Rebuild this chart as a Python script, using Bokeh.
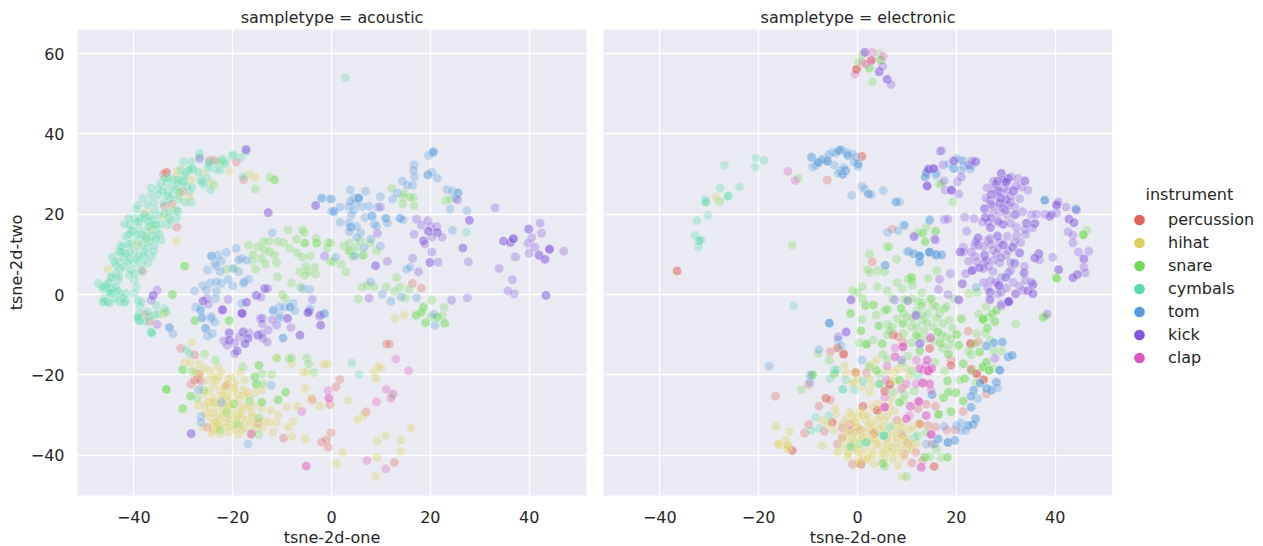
from bokeh.embed import file_html
from bokeh.resources import INLINE
from bokeh.plotting import figure
from bokeh.layouts import row
from bokeh.models import Range1d, FixedTicker, Legend, LegendItem, Label, ColumnDataSource

instruments = ["percussion", "hihat", "snare", "cymbals", "tom", "kick", "clap"]
colors = ["#DF6258", "#DBD05B", "#70DC55", "#56DBAA", "#579BDC", "#8156DC", "#DC56BE"]
x_ticks = [-40, -20, 0, 20, 40]
y_ticks = [-40, -20, 0, 20, 40, 60]

ac_percussion = [(11.1,-12.3),(11.7,-12.3),(1.7,-21.1),(.9,-23),(-.3,-27.4),(-3.9,-26.2),(7,-29.2),(12.7,-41.8),(-.1,-34.4),(-1,-36.2),(-2,-36.7),(-.7,-38),(-9.7,-35.7),(-21.3,-22.6),(-28.4,-22.3),(-27,-20.9),(-27.7,-21.3),(-26.4,-21.5),(-25.1,-33),(-30.5,-13.4),(-27.7,-15),(-16.2,-34.8),(-14.9,-32),(-26.7,-19.7),(-33.4,30.4),(-33.4,30.4),(-34,30),(-30.1,25.7),(-33.8,22),(-32.3,22.6),(-31.3,16.8),(-24.7,33.4),(-23.7,33.4),(-19.3,33),(-17.8,28.6),(-38.2,5.8),(-37.8,-5),(-36.8,-6.7),(18.2,1.6),(16.4,2.8)]
ac_hihat = [(-28.2,-11.8),(-29.7,-16.8),(-28.6,-17),(-26.8,-17.2),(-25.7,-18.2),(-24.7,-19),(-23,-18),(-22.3,-19.2),(-26.7,-19.7),(-25,-21.3),(-23.3,-21.2),(-20.3,-20.5),(-18.4,-19.4),(-17.6,-21.3),(-22.6,-23.8),(-21.3,-24.7),(-19.9,-23.8),(-17.9,-23.8),(-19.6,-23.2),(-24,-25.7),(-21.3,-26.3),(-19.9,-27.2),(-17.9,-25.1),(-16.6,-25.5),(-27,-27.6),(-25.7,-27.6),(-24.7,-28),(-23,-28.4),(-21.3,-28.8),(-19.9,-28.8),(-18.6,-29.7),(-16.2,-29.3),(-24.7,-30.5),(-23,-30.5),(-21.3,-31.8),(-19.3,-31.3),(-17.2,-31.3),(-14.9,-30.9),(-24,-32.2),(-20.9,-34.3),(-18.9,-34.7),(-17.6,-33),(-24.3,-34.5),(-22.6,-34.7),(-13.9,-33),(-12.2,-28.8),(-10.8,-29.9),(-12.5,-31.8),(-11.1,-31.8),(-8.8,-33),(-7.8,-31.6),(-11.8,-34.3),(-8,-35.3),(-5.3,-35.9),(-14.1,-28.4),(-14.1,-23.7),(-5.4,-23.4),(-4.1,-25.7),(-2.4,-27.8),(-7,-27.8),(-9.1,-28),(3.4,-26.3),(5.3,-31.1),(6.4,-30.1),(1.1,-42),(2.2,-39.3),(9.3,-36.5),(11,-35.1),(16.1,-33.2),(14.1,-36.2),(14,-39),(9.3,-40.5),(8.9,-45.3),(8.6,-19.3),(9.5,-17.8),(10.1,-18.4),(9,-20.9),(-1.6,-17.4),(-.8,-17.3),(-5.7,-19.4),(-5.1,-19.3),(-8,-17.2),(-11.1,-15.8),(12.8,-5.9),(14.7,-5.1),(-22.4,-26),(-20.6,-25.8),(-18.8,-26.3),(-23.5,-27),(-20.5,-27.5),(-18,-27.8),(-22,-29.6),(-20.4,-30),(-18,-30.5),(-16.4,-32),(-22.5,-32.8),(-20,-32.6),(-18.4,-32.4),(-24.8,-24),(-15.8,-27.4),(-21,-22.4),(-23.2,-33.5),
(-31.2,30.9),(-31.4,29.4),(-26,30.3),(-28.4,28.6),(-30.6,24.4),(-28.7,24.2),(-30.7,25.7),(-34,19.6),(-32.1,21.1),(-37.4,20.7),(-36.3,16.1),(-37.4,13.8),(-39.2,12.3),(-31.4,13.3),(-45.3,6.3),(-20.6,30.7),(-22.3,32.8),(-16.6,30),(-15.5,29.2),(-24.5,27.8),(-34,-4.8),(-33.7,-4.4),(-36.5,16.9),
(-25,-26.5),(-24,-29.5),(-22,-25),(-21,-27.8),(-19,-25),(-18.2,-28.8),(-16.9,-28),(-16,-30.5),(-22.5,-31),(-21,-33),(-19.5,-33.5),(-25.5,-29.5),(-26,-33),(-23.5,-31.7),(-20.8,-31),(-22,-27.5),(-24,-26.8),(-18,-33.8),(-16,-34),(-13.5,-31.5),(-15,-32.8),(-23.8,-22.5),(-22.8,-20.5),(-21,-21),(-27.5,-19),(-24,-20.5),(-19.5,-22),(-19,-30.3),(-17,-24.3),(-21.5,-23),(-15.5,-24.5),(-25.8,-24.5),(-23,-32.5),(-24,-34)]
ac_snare = [(-29.7,7.1),(-29.7,7.1),(-32.2,0),(-32.2,0),(-12.5,29.2),(-11.5,28.6),(-11.5,28.6),(-15.4,26.3),(-23.8,27.3),(-8.8,16.1),(-5.5,15.4),(-5.9,16.1),(-5.4,12.8),(-5.4,12.8),(-3,12.8),(-3,12.8),(-3.1,14),(-.7,12.9),(-.8,11.5),(-7.1,13.8),(-8.5,11.5),(-7,10.4),(-5.9,9.3),(-4.3,9.6),(-9.7,12.9),(-10.9,13.2),(-12.6,13.2),(-13.8,13.2),(-16.8,12.3),(-14.9,11.9),(-13.6,11.1),(-12.5,10.7),(-11.5,9.8),(-15.9,10),(-14.2,9),(-16,8.4),(-13.4,7.6),(-11.1,7.9),(-15.4,6.3),(-10.9,4.4),(-6.4,5.7),(-5.4,4.8),(-4.7,5.7),(-3.2,5.1),(-3.4,6.9),(-5.2,7.1),(-8.1,2.9),(-6.3,1.9),(-9.9,0),(-9.4,-1),(-21.3,6.3),(-19.6,6.5),(-.3,8.2),(-20.7,-6.4),(-27.7,-6.4),
(12.2,26.4),(14.7,25.3),(14.5,24.4),(15.9,24.2),(16.5,24.2),(14.4,22.6),(16.7,22.1),(23.1,23.4),(24,23.8),(-.2,12.9),(2.5,12.2),(3.6,12.8),(3.6,10.9),(3.6,10.9),(5.1,11.8),(5.9,13.4),(7.8,12.8),(9.1,10.9),(6.4,9.8),(6.4,9.8),(4.2,9.6),(2,7.6),(.3,8.2),(2.9,5.7),(13.2,4.2),(6.2,1.9),(7.2,2.3),(8.6,1.9),(11.1,1.9),(12.8,.8),(13.8,1.9),(15.7,1.3),(5.4,-1.1),(14.9,-.8),(20.3,-1.4),(18.6,-3.1),(18.6,-3.1),(22.8,-3.1),(17.2,-5.2),(18,-4.6),(20.1,-5.6),(21.4,-5.6),(21.4,-5.6),(22.4,-5.2),(22.9,-7.1),(22.9,-7.1),(19,-7.1),
(-33.4,-23.6),(-33.4,-23.6),(-33.4,-23.6),(-28.5,-25.3),(-28.5,-25.3),(-30.1,-28.4),(-30.1,-28.4),(-30.1,-18.7),(-30.1,-18.7),(-28.2,-19.1),(-25.7,-14.8),(-23.4,-16.3),(-20.7,-6.5),(-27.6,-6.5),(-25.9,-23.7),(-27.1,-25.9),(-17.9,-18),(-14.7,-17.6),(-14.7,-17.6),(-14.1,-19.7),(-15.5,-20.5),(-15.5,-20.5),(-15.2,-22.3),(-15.2,-22.3),(-13.9,-22.2),(-12.1,-19.9),(-9.3,-24.3),(-9.3,-24.3),(-10.8,-26.2),(-10.8,-26.2),(-14.1,-26.8),(-14.1,-26.8),(-16.6,-26.5),(-19.7,-27.2),(-21.3,-29.4),(-19.1,-32.2),(-14.7,-30.7),(-14.7,-34.8),(-22.6,-33.7),(-11.1,-15.8),(-8.6,-16),(-8.1,-15.8),(-5,-15.8),(-4.6,-17.3),(-3.6,-19.4),(17.1,-5.1),(19,-7),(18.3,-4.3),(12.3,-25.2)]
ac_cymbals = [(-47.2,2.8),(-46.1,1.3),(-45.9,-1.8),(-45.3,-1.8),(-44.9,-2.1),(-45.9,1.9),(-44.9,1.1),(-44.3,1.5),(-43.2,3.6),(-43.6,5.3),(-43.7,7.3),(-42.9,8.2),(-42.2,9.4),(-44.3,9.4),(-43.9,8.2),(-42.2,11.9),(-41.6,10.2),(-40.9,9),(-41.9,6.9),(-39.9,7.8),(-38.5,7.8),(-37.2,7.8),(-36.5,9.4),(-35.8,12.3),(-37.2,11.5),(-38.2,12.3),(-39.2,13.2),(-41.6,14.4),(-40.9,17.3),(-39.2,22.3),(-39.5,21.3),(-38.5,19),(-37.8,19),(-36.1,18.6),(-35.8,21.1),(-35.1,24.8),(-36.5,24.8),(-34.5,27.8),(-33.4,27.8),(-33.1,25.7),(-32.1,26.9),(-31.4,21.1),(-31.1,20.7),(-31.4,19),(-33.1,17.3),(-34.5,13.6),(-35.5,16.1),(-37.2,15.7),(-38.9,16.5),(-40.5,12.8),(-42.6,12.3),(-42.9,.3),(-42.9,-1.8),(-41.6,.3),(-39.9,3.6),(-39.5,1.9),(-39.9,.3),(-41.6,-1.6),(-44.6,.3),(-43.6,1.9),
(-30,28.4),(-29.4,30.4),(-28.4,31.3),(-26.7,35.2),(-26.7,34.3),(-24.8,32.4),(-23.4,31.2),(-21.7,33.3),(-20.1,34.5),(-18.4,34.1),(-17.3,35.5),(-25.9,27.4),(-24.5,26),(-28.4,23),(-29.7,23),(-30.1,28),(-28.7,25.7),(-28.4,33.1),(-30,33.1),(-22.2,33.7),(-19.8,34.9),(-17.9,29.4),(-43,4.5),(-44.5,4.2),(-41,4.9),(-40.8,10.5),(-39.8,11),(-37.9,9.5),(-36.8,13.2),(-38,14.6),(-41,12.5),(-40.2,15.8),(-39.9,19),(-41.9,17.5),(-38.9,18.3),(-37,18),(-35,19.7),(-34,22.8),(-32.7,23.7),(-36,23),(-37.3,22.4),(-33.3,24.6),(-32,28.7),(-30.8,27.8),(-29.3,27),(-28.2,26.7),(-26.5,28.6),(-25.2,29.1),(-39.2,-1.5),(-38.7,-3),
(-37,17),(-36,17.5),(-36.8,19.5),(-38,20),(-35.5,17.4),(-34.5,17.5),(-33,19),(-32.5,18.5),(-33.8,20.2),(-32.8,20.5),(-39.5,18),(-40.5,16),(-38.5,15),(-39.5,14.8),(-37.5,14),(-36.3,14.5),(-34.8,15),(-41,15),(-42.5,10.5),(-43,10.8),(-41.2,8),(-42.8,6.5),(-40.5,6),(-39.8,5.2),(-38.5,6),(-44.6,4.5),(-46.5,2),(-45.5,2.5),(-45,3),(-46,-1),(-46.3,-1.9),(-44.8,.5),(-42.2,-.8),(-42,-2),(-43.8,-1),(-43.3,.9),(-38,10.5),(-39,9.5),(-39.6,9),(-36,10.8),(-35.5,14),(-41,19),(-38.2,24),(-36.5,26.6),(-35,26.3),(-34.2,25.8),(-33.8,29),(-33,28.9),(-32.2,24.8),(-31.5,26.4),(-30.8,25.5),(-31.2,28.5),(-29.8,29.5),(-28.9,31),(-28,31.3),(-27,30.5),(-26.2,28),(-25,31.5),(-24.8,33),(-23,33.1),(-22.5,31),(-21.5,32.5),(-30.5,31),(-31,23.8),
(-39.2,-5.9),(-38.9,-6.5),(-38.9,-6.5),(-37.8,-6.7),(-36.8,-5.5),(-35.8,-5.1),(-36.5,-9.3),(-36.5,-9.3),(-36.3,-9.7),(-35.1,-4.8),(-29.4,-13.8),(-28.7,-14.7),(-33.4,-4.3),(-38.5,-1.8),(-38.9,-4.8),(-37.2,-4.3),(-35.5,-2.7),(-33.8,-3.5),(-39.2,-5.6),(4.1,-17),(5.6,-19.9),(2.8,54),(27.3,15.5)]
ac_tom = [(-24.3,9.6),(-24.3,9.6),(-21.3,10.5),(-19.3,11.5),(-18.2,9),(-17.2,8.6),(-18.8,8.6),(-23,9.8),(-22.3,8.4),(-23.6,7.8),(-23.3,7.1),(-25.1,6.1),(-22.5,5.7),(-18.8,5.7),(-20,6.5),(-20.9,3.8),(-22.3,2.8),(-24.5,2.9),(-26,2.3),(-23.3,3.2),(-20,2.2),(-17.7,3.2),(-16.8,3.8),(-17.8,2.8),(-27.7,.9),(-25.3,1.1),(-23.3,.9),(-23.5,-1),(-27.5,-3.1),(-26.5,-3.5),(-12,15.4),(-2,24),(-2,24),(-.3,23.8),(0,20.7),(-4.4,1.3),(-5.8,1.5),(-7.8,-2.2),(-9.5,-3.1),(-10.5,-3.1),(-11.8,-3.9),(-8.4,-3.1),(-8.4,-3.1),(-18.2,-2.2),(-4.4,-3.5),(-1.5,-4.8),(-26.2,-5.6),(-24.4,-6),(-10.5,-5.2),
(3.8,26.1),(6.9,25.7),(9.9,24.4),(4.5,24),(5.5,24),(5.5,24),(5.5,24),(4.9,22.8),(3.8,23.2),(3.5,21.9),(6.2,21.9),(7.6,22),(9.3,21.8),(4.5,21),(4,19.8),(.5,20.7),(.5,20.7),(0,23.8),(1.7,21.8),(1.7,18),(3.5,17.8),(3.9,16.8),(3.9,16.8),(5.1,16.9),(5.9,15.4),(3.6,15.7),(6.8,19.2),(8.2,19.6),(8.2,19.6),(8.6,17.5),(9.1,17.1),(11,19),(11,19),(11.3,17.8),(13.9,19),(13.9,19),(14.5,18.6),(8,13.8),(6.6,11.7),(9.9,12.1),(5.1,14.2),(.8,9.3),(4.7,9.6),(15.2,6.3),(15.9,6.8),(7.9,3.2),(10.3,.1),(12,-1.7),(14.1,-.6),(17.2,-.8),(20.7,-4.9),(20.9,-7.7),
(16.7,32.3),(16.6,30.9),(16.8,29.3),(14.3,28.3),(15.3,27.3),(16.4,27.2),(13.3,25.3),(12.4,23.8),(19.5,29.8),(19.5,29.8),(20.3,30.5),(21.4,29),(19.6,34.6),(20.5,35.3),(20.5,35.3),(20.7,35.7),(23.4,26.1),(24.5,25.8),(25.6,25.3),(25.6,25.3),(25.1,24),(24,21.3),(27.4,20.9),(24.5,16),
(-26.5,-4),(-26.2,-5.9),(-24.3,-5.5),(-25.5,-8.4),(-25.5,-8.4),(-23.6,-6.8),(-25.1,-10.3),(-24.1,-9.7),(-32.8,-8.2),(-32.8,-8.2),(-32.1,-9.8),(-9.8,-10.8),(-9.8,-10.8),(-10.5,-5.9),(-11.8,-4),(-7.4,-4),(-1.4,-4.7),(-4.4,-4),(-26.9,-23.7),(-26.4,-30.3),(-26.4,-31.8),(-16.9,-37.2),(-12.2,-22.6),(-22.3,-26.8)]
ac_kick = [(9.9,21.8),(17.2,18.8),(18.2,17.3),(19.5,18.4),(20.1,16.9),(21.3,16.9),(19.6,15.8),(19.6,15.8),(21.4,15.5),(21.4,15.5),(22.4,14.3),(20.3,14.3),(16.7,15),(18.6,13.4),(18.6,13.4),(18.9,12.6),(9.3,15.3),(20.3,10.6),(26.6,11.6),(26.6,11.6),(27.9,18.5),(27.9,18.5),(25.5,23.6),(33.1,21.6),(8.9,7.2),(8.9,7.2),(11.3,8.3),(16.4,9),(19.9,8),(19.9,8),(21.6,8.1),(27.7,8.2),(17.6,5.7),(33.9,6.5),(7.6,-.9),(24.3,-1.4),(27.5,-.8),(34.8,13.3),(34.8,13.3),(36.2,13),(36.2,13),(36.8,13.9),(36.8,13.9),(36.8,13.9),(39.9,16.3),(39.9,16.3),(42.2,17.8),(42.5,15.3),(40.5,14.2),(39.8,12.8),(41.2,11.8),(40,10.3),(42,9.8),(42,9.8),(43.2,8.8),(43.2,8.8),(44.1,11.3),(44.1,11.3),(44.1,11.3),(47,10.8),(37.2,9.4),(36.6,3.7),(35.7,.9),(37,.2),(43.4,-.2),(43.4,-.2),
(-17.3,36.1),(-17.3,36.1),(-26.7,33.8),(-12.8,20.4),(-12.8,20.4),(-3.2,22.2),(-3.2,22.2),(-35.3,1.1),(-36.1,-.2),(-36.1,-.2),(-36.5,-1.4),(-25.2,-1),(-26,-1.6),(-26,-1.6),(-24.9,-2.4),(-20.9,-1.2),(-22.1,-3.8),(-22.1,-3.8),(-17.2,-1.9),(-17.2,-1.9),(-15.2,-.2),(-15.2,-.2),(-14.3,-.6),(-13.5,1.5),(-13.5,1.5),(-12.9,1.5),(-18.1,-4.6),(-18.1,-4.6),(-14.4,-6),(-8.9,-6),(-4.8,-4.5),(-4.8,-4.5),(-2.5,-5.3),(-1.4,9.6),(-3.9,-1.2),
(-22,-3.8),(-18.1,-4.7),(-18.1,-4.7),(-14,-5.9),(-14,-7.3),(-12.8,-8.8),(-12,-6.3),(-11.1,-7.6),(-8.9,-5.9),(-8.2,-8.2),(-6.4,-10.1),(-6.4,-10.1),(-4.6,-4.3),(-2.2,-7.6),(-2.2,-7.6),(-2.2,-5.1),(-20.7,-9.5),(-20.7,-9.5),(-17.9,-9.3),(-17.9,-9.3),(-16.7,-9.5),(-18.6,-10.5),(-16.9,-10.9),(-16.9,-10.9),(-17.5,-12.2),(-17.5,-12.2),(-14.9,-10.1),(-14.9,-10.1),(-14.1,-9.8),(-13.9,-10.9),(-13,-11.8),(-21.8,-11.5),(-20.7,-11.3),(-20.7,-11.3),(-21.1,-12.6),(-19.6,-12),(-19.1,-14),(-19.1,-14),(-19.6,-14.7),(-28.4,-34.6),(-28.4,-34.6),(-35.3,-7.4)]
ac_clap = [(-5.1,-42.7),(-5.1,-42.7),(-.5,-25.8),(-.5,-25.8),(-.7,-23.9),(-6,-29.1),(13,-16),(15.6,-19),(11.1,-23.6),(12.5,-24.7),(12,-25.8),(9.1,-26.7),(7.2,-41.3),(11,-43.4),(-16.2,-34.6)]

el_percussion = [(-.2,56.1),(-.2,56.1),(-.2,56.1),(2.8,58.3),(2.8,58.3),(1,57.8),(.9,34.4),(.9,34.4),(-6.1,28.5),(7,16.3),(3,8.2),(-36.5,5.9),(-36.5,5.9),(-16.6,-25.3),(-13.2,-38.8),(-13.2,-38.8),(-10.7,-34.5),(-9.9,-32.3),(-7.8,-27.8),(-6.4,-25.8),(-6.4,-25.8),(-5.5,-26.2),(-5.5,-14.2),(-4,-13.3),(-4,-13.3),(-2.8,-14.8),(-2.8,-14.8),(-2.8,-14.8),(-9.9,-22.4),(-6.7,-34),(-5.1,-31.8),(-5.1,-31.8),(-3.1,-33.2),(-4.1,-37.2),(-3.1,-35.5),(-1.6,-32.3),(-1.3,-33.8),(.7,-42.2),(.7,-42.2),(-1,-42.2),(1.1,-27.8),(1.1,-27.8),(4,-28.8),(4,-28.8),(4,-28.8),(-.4,-19.4),(-.4,-19.4),(1.8,-19.5),(5.5,-24),(5.5,-24),(6.5,-22.4),(6.5,-22.4),(6.5,-22.4),(7.2,-10),(7.2,-10),(8.2,-10.5),(9.2,-11.8),(14.6,-13.4),(14.6,-13.4),(18.9,-16.3),(18.9,-17.6),(18.9,-17.6),(22.4,-9.1),(22.9,-12.2),(22.9,-12.2),(22.9,-12.2),(24.4,-11.8),(23,-18.6),(23,-18.6),(24.1,-19.7),(24.1,-19.7),(24.1,-19.7),(25.5,-21.2),(25.5,-21.2),(25.5,-21.2),(26.1,-24.7),(21.4,-29.1),(13.9,-27.3),(15.8,-27.8),(12.2,-28.4),(8,-31.3),(3.4,-34.5),(3.4,-34.5),(8.9,-34.7),(.6,-33.7),(10.2,-37),(9.5,-39.7),(11.8,-39.3),(11,-41.9),(13.2,-41.3),(15.5,-42.8),(15.5,-42.8),(12.6,-32.2),(12.6,-32.2),(15.8,-33),(14.3,-32.6),(18.1,-33.7),(19.8,-33.7),(15.1,-37.2)]
el_hihat = [(-28.7,24.3),(-16.5,-32.8),(-13.8,-34.1),(-16,-37.3),(-16,-37.3),(-14.5,-36.3),(-14.1,-37.6),(-14.1,-37.6),(-14.3,-38.4),(-7.2,-37.6),(-4.5,-28.3),(-4.3,-29.7),(-7,-31.3),(-4.9,-33.7),(-2.6,-17.6),(-2.3,-19.5),(-.6,-21.8),(-.3,-19.3),(2.4,-20.9),(2.4,-24.3),(3.8,-16.3),(4.5,-22.2),(4.1,-27.2),(6.8,-25.9),(7.5,-19.3),(8.2,-18.4),(6.5,-21.3),(9.9,-18.4),(10.5,-20.1),(-1.6,-29.3),(.1,-30.5),(1.8,-31.3),(-2.3,-30.9),(-.6,-31.8),(-.6,-31.8),(1.1,-30.1),(4.8,-30.1),(6.1,-30.1),(5.5,-31.3),(7.2,-32.6),(8.9,-31.8),(3.4,-32.6),(.4,-33.4),(-.3,-35.5),(1.8,-34.7),(3.8,-35.1),(7.2,-34.7),(9.2,-35.1),(11.2,-33),(12.6,-32.2),(3.8,-37.2),(5.8,-36.3),(7.8,-36.8),(9.9,-38.4),(-1.6,-38.8),(-4,-39.3),(-.3,-38.4),(1.1,-39.7),(3.1,-38.8),(4.8,-39.7),(6.8,-39.3),(8.5,-38),(.4,-40.5),(-2,-40.5),(3.4,-42.2),(7.2,-40.9),(9.2,-40.5),(8.2,-42.6),(9.1,-45.3),(2.4,-36.3),(-.9,-37.2),(5.1,-38),(10.9,-37.2),(-3,-32.2),(-1,-36),(1,-36),(4.6,-33.5),(6.3,-37.9),(-2,-35),(.8,-41.6),(2.2,-40.6),(5.4,-41),(10.4,-33.6),(2,-30),(-6,-32),
(-2,-34),(0,-33),(2,-33),(3,-34),(5,-33),(6,-34.5),(8,-33.5),(9,-33),(-3,-36),(-1.5,-37),(0,-39),(1.5,-38),(3,-36),(4,-37),(6,-36),(8,-35.8),(10,-35.8),(7,-38),(5.5,-39.5),(2,-41),(0,-42),(-2,-39.5),(-3,-38),(9.5,-36.5),(11,-38.5),(12,-37),(8,-39.5),(3,-40),(1,-35.5),(-.5,-34.2),(2.6,-32),(4,-31),(-1,-30),(.5,-29),(6.5,-28),(7.5,-29),(3,-28),(-1,-22),(1,-23),(3,-22.5),(6,-19),(7.5,-21.5),(9.4,-23),(2.5,-17.5),(0,-20.8)]
el_snare = [(.3,58),(4.4,59.9),(4.7,58.4),(4.7,58.4),(2.4,56.3),(2.4,56.3),(3,53),(1,59.7),(-27.9,23.2),(-12,29),(-13.2,12.3),(6,11.9),(6.4,11.9),(2.4,10.1),(7.9,8.8),(2,6.3),(13.2,15.3),(13.2,15.3),(15.8,15.8),(15.8,15.8),(12.2,15.5),(13.9,16.8),(13.7,13.2),(13.7,13.2),(16.6,27.4),(16.9,27.7),(19.3,23.1),(46.4,16),(45.7,14.9),(45.7,14.9),(45.7,14.9),(40.3,4.1),(40.3,4.1),(40.3,4.1),(16,6),(14.3,4.1),(10.2,3.9),(10.9,4.3),(10.9,4.3),(11.1,2.3),(22.5,.3),(24.2,.6),(25.4,-5.9),(25.4,-5.9),(27.4,-4.8),(28.1,-4),(26.5,-5.7),(21,-5.9),(37.6,-5.7),(37.6,-5.7),(38,-5.3),
(1.6,-2.7),(1.6,-2.7),(3.2,-2.6),(3.2,-2.6),(6,-3.7),(6,-3.7),(-1.4,-4.7),(-1.4,-4.7),(.9,-6.2),(3.8,-5.1),(9.3,-4.7),(8.8,-3.4),(8.8,-3.4),(9.2,-7.2),(9.2,-7.2),(4.3,-7.8),(4.3,-7.8),(6.1,-7.4),(.7,-9),(.7,-9),(10.9,-8),(1.8,-12.4),(1.8,-12.4),(1.8,-12.4),(.4,-12),(3.1,-11.3),(5,-12.2),(5,-12.2),(9.3,-9.7),(11.9,-10.1),(11.9,-10.1),(12.4,-10.5),(13.2,-6.3),(15.3,-8),(16.3,-9.3),(16.3,-9.3),(17.3,-7.2),(18.6,-6.3),(19.3,-8.4),(20.1,-9.9),(20.1,-9.9),(21,-6.1),(15.3,-2.6),(14.3,-4.7),(15.9,-3),(12.2,-1.7),(16.6,-4.7),(13.2,-5.1),(16.8,-12),(16.8,-12),(18.6,-12.6),(17.3,-13.4),(18.4,-14.8),(18.4,-14.8),(20.5,-12.6),(20.5,-12.6),(25.4,-6.2),(25.4,-6.2),(27.8,-6.7),(27.8,-6.7),(26.3,-8.3),(26.3,-8.3),(27.2,-4.7),(28.1,-3.8),(32,-7.3),(24.1,-9.7),(26.8,-11.3),(24.7,-14.3),(24.7,-14.3),(23.7,-12.2),(29.1,-14.1),(21.4,-17.2),(21.4,-17.2),(25.4,-18),(25.4,-18),(25.4,-18),(26.1,-16.8),(26.1,-16.8),(26.6,-18.8),(26.6,-18.8),(26.6,-18.8),(27.4,-18.4),(21.7,-20.9),(21.7,-20.9),(20.7,-21.3),(18.2,-21.5),(18.2,-21.5),(17.6,-19),(19.9,-24.4),(19.9,-24.4),(18.4,-24.3),(18.4,-24.3),(17.4,-25.7),(17.4,-25.7),(21.4,-26.5),(21.4,-26.5),(18.9,-29.1),(18.9,-29.1),(16.4,-29.8),(16.4,-29.8),(16.4,-29.8),(7.2,-24.3),(9.2,-26.3),(8.5,-26.8),(8.5,-26.8),(3.8,-18.8),(3.8,-18.8),(4.5,-19.7),(2.4,-18),(5.1,-14.9),(8.5,-21.3),(8.5,-21.3),(10.2,-15.3),(12.6,-14),(12.6,-14),(15.6,-16.8),(-5.7,-16.3),(-8,-14.7),(-9.1,-20),(-9.1,-20),(-9.1,-20),(-11.4,-23.7),(-4.7,-19.7),(-4.7,-19.7),(5.1,-42),(5.1,-42),(5.5,-42.8),(9.9,-45.3),(13.6,-40.5),(13.6,-40.5),(14.7,-40.3),(16.9,-40.5),(18.2,-40.5),(18.2,-40.5),(15.9,-38.4),(-1.6,-38),(.4,-37.2),(13.9,-34.3),(12.2,-35.1),
(2.5,5.5),(4,6),(5.5,5.7),(1,2),(4,2),(6,1),(0,.5),(-1,1),(1,-1),(8,3),(11,3.5),(11,-1),(13,-2),(9,1.5),(15,-1),(13,.5),(10,-1.5),(7,-1),(18,-3),(12,-4),(19.5,-1),
(11,-12),(12,-8),(13.5,-9),(14,-11),(15.5,-11.5),(14,-7),(11,-6),(10,-5.5),(8,-6),(7,-8),(6,-10),(17,-10),(18,-10.5),(19,-11),(16,-5.8),(17.6,-3.5),(13,-2.8),(14.7,-1.2),(9.5,-1.2),(6.5,-9),(5.5,-4),(26,-3),(24.5,-4.8),(25.9,-9.5),(23,-15),(22.5,-14),(27.5,-14),(23,-19),(24,-22),(9.5,-25),(11,-19),(9,-17),(6,-16),(11.5,-24)]
el_cymbals = [(-20.6,34),(-18.9,33.4),(-20.7,31.7),(-26.9,32.2),(-23.9,26.8),(-27.8,26.5),(-26.2,24.5),(-26.2,24.5),(-30.8,23.7),(-30.7,23),(-30.7,23),(-30.3,19.8),(-32.5,18.4),(-32.9,14.7),(-31.6,13.6),(-32,13.4),(-32,13.4),(-32.2,11.9),(-12.9,-2.8),(-4.7,-18.7),(-4.2,-18.7),(-5.5,-20.9),(-3,-23.6),(-3,-23.6),(-2.4,-21.2),(-.6,-23.7),(1.1,-21.6),(-8.5,-30.5),(-5.8,-30.1),(-7.8,-33.3),(-9.4,-33.8),(4.5,-22.2),(4.5,-22.2),(12.2,-20.1),(6.5,-33),(5.3,-35.1),(5.3,-35.1),(5.3,-35.1),(1.8,-36.8),(1.8,-36.8),(-1.3,-37.8),(11.6,-35.5)]
el_tom = [(-9.3,34.2),(-9.3,34.2),(-9.1,31.8),(-8.4,32.2),(-7.9,32.8),(-7.9,32.8),(-6.8,33.8),(-6.1,33.2),(-6.1,33.2),(-6.1,33.2),(-4.7,32.2),(-5.1,35.5),(-3.7,35.9),(-3.7,35.9),(-3.7,35.9),(-3.2,36.1),(-2.2,35.5),(-2,34.7),(-2,34.7),(-.3,34.2),(.1,32.6),(.1,32.6),(.1,31.9),(-3.4,30.8),(-2.4,30.9),(-2.4,30.9),(-3,29.9),(-3,29.9),(.9,27),(1.4,26.3),(2.2,25.1),(2.2,25.1),(2.8,24.9),(-1.2,24.7),(5.2,25.9),(7.8,23.1),(7.8,23.1),(6.1,15.5),(8.2,15.9),(9.5,17.2),(14.6,18.4),(5.6,7.3),(5.6,7.3),(10.1,10.7),(11.3,10.1),(12.5,9.7),(12.5,9.7),(12.5,8),(14.5,10.5),(14.5,10.5),(15.9,9.7),(13.7,29.3),(15.9,29.7),(14,30),
(-8,33),(-7.2,33.6),(-5.8,34.8),(-4.4,35.2),(-1,35),(-.8,33),(-3.9,30.2),(-2.8,31.6),(18.5,32.5),(20.8,33.5),(21.5,32),(23,32),
(8.5,23.1),(14.6,18.7),(9.4,17.3),(13.9,30.4),(13.9,30.4),(13.7,29.3),(15.9,30.2),(20,33.9),(21.4,33.3),(21,31),(22.8,31.3),(19.5,31.4),(19.5,31.4),(37.9,23.5),(37.9,23.5),(37.9,23.5),(44.2,21.3),(44.2,21.3),(10.4,10.8),(11.4,10.2),(12.6,9.6),(12.6,9.6),(14.6,10.6),(14.6,10.6),(15.9,10),(15.9,10),(17,9.9),(17,9.9),(12.6,8.1),(24,1.8),(31.8,7.9),(30,4.3),
(-17.9,-17.8),(-7.8,-13.7),(-5.7,-7.1),(-5.7,-7.1),(-5.7,-7.1),(-3.9,-11.3),(-3.3,-12.8),(-9.6,-20.1),(-9.6,-21.8),(.9,-16.3),(15.1,-24.9),(15.1,-24.9),(23,-28),(23,-28),(24.3,-25.9),(23.5,-23.8),(23.5,-23.8),(23,-25.3),(23,-25.3),(24.8,-22),(24.8,-22),(26.1,-23.4),(26.1,-23.4),(27.1,-23.8),(27.1,-23.8),(28.1,-21.8),(28.1,-21.8),(28.4,-23.2),(28.8,-18.8),(28.8,-18.8),(28.8,-18.8),(29.3,-11.8),(29.3,-11.8),(27.6,-12),(27.6,-12),(26.1,-12.8),(26.1,-12.8),(30.5,-15.5),(30.5,-15.5),(31.3,-15.1),(31.3,-15.1),(23.9,-30.9),(23.9,-30.9),(23.4,-32.3),(23.4,-32.3),(22.4,-32.6),(22.4,-32.6),(21.9,-33.8),(21,-33.8),(20,-32.6),(20.9,-31.9),(18.3,-36.8),(18.3,-36.8),(18.3,-36.8),(19.7,-36.3),(19.7,-36.3),(17.5,-32.8),(16.3,-35.9),(16.3,-35.9),(15.6,-37.2),(13.9,-37.2)]
el_kick = [(1.5,60.3),(1.5,60.3),(4.4,55.5),(4.4,55.5),(6,53.6),(6,53.6),(6.8,52.3),(5.1,56.8),(16.7,35.7),(14.4,31.1),(14.4,31.1),(15.5,31.3),(15.5,31.3),(14.1,27),(14.1,27),(11.5,14.4),(15.8,13.6),
(17,35.8),(14.3,31.3),(15.3,31.4),(17.3,32.3),(19.5,33.3),(19.5,33.3),(22.5,32.3),(23.9,33.1),(23.9,33.1),(23.2,33.3),(14.1,27.1),(17.5,28.3),(20.2,28.1),(21,29.3),(17.8,26),(19,26),(19,26),(19,26),(20.5,25),
(29.1,30.2),(29.1,30.2),(28.4,28.3),(28.4,28.3),(29.5,28.5),(30.5,28.9),(30.5,28.9),(30.1,28.1),(30.1,28.1),(30.1,28.1),(31.1,29.3),(32.5,28.9),(33.9,28.3),(33.9,28.3),(33.2,26.8),(34.5,26),(31.6,25.8),(31.6,25.8),(27.8,26.4),(26.2,26.6),(27.1,25),(27.1,25),(26.8,23.5),(28.4,24.3),(30,23.7),(30,23.7),(28.8,22.7),(28.8,22.7),(30.5,22.3),(32.8,23.9),(31.8,21.8),(25.7,21.4),(25.7,21.4),(25.9,19.2),(25.9,19.2),(27.4,20.2),(28.8,20.6),(30.3,19.8),(28.4,18.5),(29.5,17.5),(29.5,17.5),(26.9,16.7),(26.9,16.7),(31.8,19.8),(33.4,20.6),(32.2,16.7),(21.7,19.3),(23.6,18.9),(25.3,18.1),(17.6,18.7),(18.3,18.8),(22.1,15.8),(29,25.5),(28,27.5),(32,27),(31,24.5),(27.5,22),(29.5,21.5),(26.5,18),(31,17.8),
(35.2,19.9),(36.2,20),(34.2,17.8),(34.2,17.8),(35.9,17.7),(35.9,17.7),(35.4,16.6),(33.9,16.2),(37.9,20),(38.9,19.5),(38.9,19.5),(40.3,22.3),(40.3,22.3),(40.3,22.3),(40.6,23.1),(39.3,20),(40.3,20.3),(42.2,21.8),(44.3,21),(42.8,18.8),(42.8,18.8),(43.8,17.9),(43.8,17.9),(42.6,15.6),(43.6,14.8),(43.6,12.9),(44.7,10.6),(46.8,10.8),(45.8,8.9),(45.8,8.9),(45.8,6.8),(46.1,5.4),(44.5,5),(44.5,5),(43.6,4.2),(43.6,4.2),(40.7,6.2),(40.7,6.2),(39.5,9.3),(36.7,10.2),(36.7,10.2),(35.9,9.1),(35.9,9.1),(36.8,8.7),
(24.4,14.1),(24.4,14.1),(26.4,13.5),(28.3,14.6),(28.3,14.6),(30.3,14.5),(32.2,14.8),(31.8,13.1),(28.8,13.1),(29.5,12.4),(29.5,12.4),(31.4,11.8),(31.4,11.8),(23.7,12.3),(24.4,12.3),(21.4,11.8),(20.8,10.6),(20.8,10.6),(21.4,10.6),(23,10.6),(25.7,9.8),(25.7,9.8),(27.4,11),(28.1,10.2),(30,9.8),(32.8,10.4),(32.8,10.4),(25.7,8.1),(24.2,8.1),(26.1,8.5),(28.8,7.9),(23.2,6),(23.2,6),(23.2,6),(24.7,6.7),(24.7,6.7),(27.4,5.8),(21.9,5.2),(31.8,7.7),(33.7,5.4),(33.7,5.4),(33.8,7),(30.5,5.4),(29.1,4.3),(28.6,2.3),(28.6,2.3),(28.6,2.3),(30,4.3),(21.2,2.7),(21.2,2.7),(26.4,1.6),(26.8,.6),(26.8,.6),(28.4,.2),(29.1,.6),(30.1,1.6),(32.8,2.1),(32,.2),(32,.2),(34.5,1),(34.5,1),(35.5,2.5),(35.5,2.5),(35.5,.2),(35.5,.2),(35.2,3.1),(30.5,-1.9),(30.5,-1.9),(29.1,-2.8),(20.5,-1.3),(26.8,-1.1),(38.4,-4.8),(16.6,3.8),(18.8,5.2),(15.6,13.8),(11.4,14.5),(16.4,1.3),(18.3,0),(11.7,-5.3),
(27.5,28.2),(29.5,26.5),(30.5,26),(28.5,25.8),(26,24),(27,22.5),(29,24),(31,23),(32,20),(30,21),(28.5,18),(27,19),(26.8,14),(25.5,12),(27,12.5),(28.5,11.5),(30.5,11),(26.5,7),(25.5,6.5),(27.5,8.5),(29,9.2),(31,8),(23.8,9.5),(22.5,8.3),(34,15),(33,13),(31,6),(28,3),(27,3.5),(25.5,3),(31.5,3),(33.5,1),(34,3.5),(24,13.2),
(-1.3,-1.3),(-1.3,-1.3),(-3.9,-10.5),(-2.3,-9.3),(-2.3,-9.3),(7.5,-1.3),(11.9,-5.1),(12.6,-12.2),(12.6,-12.2),(20.5,-1.3),(26.8,-1.3),(29.1,-2.3),(30.6,-1.7),(30.6,-1.7),(30.6,-1.7),(27.8,-15.9),(8.9,-16.3),(10.2,-1.5)]
el_clap = [(-.5,54.9),(2.8,58.3),(1.7,57.4),(3,60.3),(5.2,59.3),(-14.1,30.7),(-12.6,28.4),(12.6,-18.4),(12.6,-18.4),(14.1,-16.3),(14.1,-16.3),(13.2,-18.8),(14.3,-19),(14.3,-19),(14.3,-19),(14.3,-19),(15,-18.4),(15,-18.4),(13.8,-17.6),(13.2,-22),(13.2,-22),(13.2,-22),(14.6,-22.2),(14.6,-22.2),(14.9,-23.8),(14.8,-10.8),(14.8,-10.8),(9.2,-13),(9.2,-13),(9.2,-13),(7.6,-13.3),(7.6,-15.5),(7.6,-15.5),(6,-17.8),(11.9,-16.3),(5.5,-25.5),(5.5,-28),(5.5,-28),(5.5,-28),(10.7,-27.8),(10.7,-27.8),(12.4,-26.6),(12.4,-26.6),(12.4,-26.6),(10.5,-30.1),(9.9,-30.9),(9.9,-30.9),(13.9,-30.1),(13.9,-30.1),(11.9,-22.2),(8.9,-23.4),(9.9,-22.2),(5.8,-21.2),(14.9,-34.8),(14.9,-34.8),(14.9,-34.8),(12.9,-43),(12.9,-43)]

acoustic = [ac_percussion, ac_hihat, ac_snare, ac_cymbals, ac_tom, ac_kick, ac_clap]
electronic = [el_percussion, el_hihat, el_snare, el_cymbals, el_tom, el_kick, el_clap]

FONT = "DejaVu Sans"
INK = "#262626"


def panel(title, series, show_y, left_border, right_border):
    p = figure(frame_width=509, frame_height=466, output_backend="svg", toolbar_location=None,
               x_range=Range1d(-51.4, 51.6), y_range=Range1d(-50, 66), title=title,
               min_border_left=left_border, min_border_right=right_border,
               min_border_top=25, min_border_bottom=42,
               background_fill_color="#EAEAF2", border_fill_color="white", outline_line_color=None)
    p.title.align = "center"
    p.title.text_font = FONT
    p.title.text_font_size = "15.9px"
    p.title.text_font_style = "normal"
    p.title.text_color = INK
    p.title.standoff = 5
    for ax, ticks in ((p.xaxis[0], x_ticks), (p.yaxis[0], y_ticks)):
        ax.ticker = FixedTicker(ticks=ticks)
        ax.axis_line_color = None
        ax.major_tick_line_color = None
        ax.minor_tick_line_color = None
        ax.major_label_text_font = FONT
        ax.major_label_text_font_size = "16px"
        ax.major_label_text_color = INK
        ax.axis_label_text_font = FONT
        ax.axis_label_text_font_size = "16px"
        ax.axis_label_text_font_style = "normal"
        ax.axis_label_text_color = INK
    p.xaxis[0].axis_label = "tsne-2d-one"
    p.xaxis[0].major_label_standoff = 9
    p.xaxis[0].axis_label_standoff = 2
    if show_y:
        p.yaxis[0].axis_label = "tsne-2d-two"
        p.yaxis[0].major_label_standoff = 7
        p.yaxis[0].axis_label_standoff = 2
    else:
        p.yaxis[0].visible = False
    p.xgrid[0].ticker = FixedTicker(ticks=x_ticks)
    p.ygrid[0].ticker = FixedTicker(ticks=y_ticks)
    for g in (p.xgrid[0], p.ygrid[0]):
        g.grid_line_color = "white"
        g.grid_line_width = 1.4
    for pts, col in zip(series, colors):
        src = ColumnDataSource(dict(x=[a for a, _ in pts], y=[b for _, b in pts]))
        p.scatter("x", "y", source=src, size=9.3, fill_color=col, fill_alpha=0.3,
                  line_color="white", line_alpha=0.3, line_width=0.7)
    return p


left = panel("sampletype = acoustic", acoustic, True, 72, 8)
right = panel("sampletype = electronic", electronic, False, 9, 0)

key = figure(frame_width=143, frame_height=533, output_backend="svg", toolbar_location=None,
             x_range=Range1d(0, 1), y_range=Range1d(0, 1), min_border=0,
             background_fill_color="white", border_fill_color="white", outline_line_color=None)
key.xaxis.visible = False
key.yaxis.visible = False
key.xgrid.visible = False
key.ygrid.visible = False

items = []
nan = float("nan")
for name, col in zip(instruments, colors):
    r = key.scatter([nan], [nan], size=11, fill_color=col, line_color=col, line_width=1.5)
    items.append(LegendItem(label=name, renderers=[r]))
legend = Legend(items=items, location=(13, 167), border_line_color=None, background_fill_alpha=0,
                label_text_font=FONT, label_text_font_size="16px", label_text_color=INK,
                glyph_width=28, glyph_height=23, label_standoff=15, spacing=0, padding=0, margin=0,
                label_height=20)
key.add_layout(legend, "center")
key.add_layout(Label(x=33, y=368, x_units="screen", y_units="screen", text="instrument",
                     text_font=FONT, text_font_size="16px", text_color=INK,
                     text_baseline="middle"))

page = row(left, right, key, spacing=0, margin=(3, 0, 0, 3))
open("out.html", "w").write(file_html(page, INLINE))
